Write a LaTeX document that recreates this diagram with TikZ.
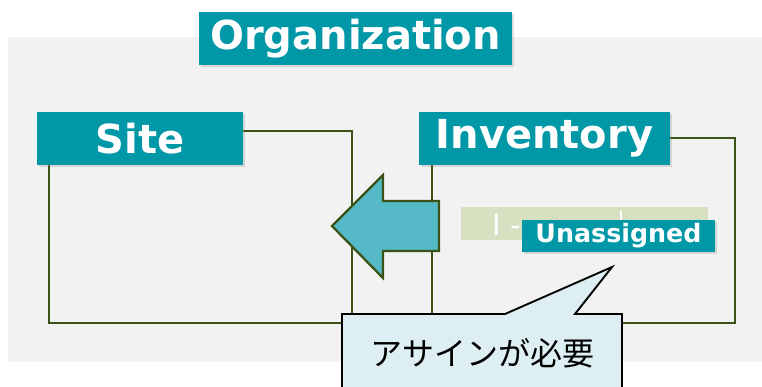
\documentclass[tikz,border=0pt]{standalone}
\usepackage{fontspec}
\setmainfont{DejaVu Sans}
\newfontfamily\jpfont{Noto Sans CJK JP}
\usetikzlibrary{shadows}
\definecolor{teal}{HTML}{0097A7}
\definecolor{bggray}{HTML}{F2F2F2}
\definecolor{frame}{HTML}{3B5316}
\definecolor{arrowfill}{HTML}{55B9C7}
\definecolor{greenbox}{HTML}{D7E1C1}
\definecolor{callfill}{HTML}{DDEFF3}
\tikzset{
  lbl/.style={fill=teal, text=white, font=\bfseries, inner sep=0pt,
    drop shadow={opacity=0.25, shadow xshift=1.5pt, shadow yshift=-1.5pt}},
  frm/.style={draw=frame, line width=1.7pt},
  bigtxt/.style={font=\bfseries\fontsize{30}{31}\selectfont},
}
\begin{document}
\begin{tikzpicture}[x=0.75pt,y=-0.75pt]
\clip (0,0) rectangle (762,386);
\fill[white] (0,0) rectangle (762,386);
% background
\fill[bggray] (8,37) rectangle (762,362);
% frames
\draw[frm] (49,131) rectangle (352,323);
\draw[frm] (432,138) rectangle (735,323);
% arrow
\draw[fill=arrowfill, draw=frame, line width=1.7pt, line join=miter]
  (332,226) -- (383,175) -- (383,201) -- (439,201) -- (439,251) -- (383,251) -- (383,278) -- cycle;
% labels
\node[lbl, bigtxt, minimum width=313*0.75pt, minimum height=53*0.75pt] (org) at (355.5,38.5) {Organization};
\node[lbl, bigtxt, minimum width=206*0.75pt, minimum height=53*0.75pt] (site) at (140,138.5) {Site};
\node[lbl, bigtxt, minimum width=251*0.75pt, minimum height=53*0.75pt] (inv) at (544.5,138.5) {Inventory};
% faded green tag
\node[fill=greenbox, minimum width=247*0.75pt, minimum height=33*0.75pt, inner sep=0pt] (tag) at (584.5,223.5) {};
\node[text=white, font=\fontsize{22}{24}\selectfont, anchor=west, inner sep=0pt] (tagtxt) at (492,225) {I -};
\draw[white, line width=2pt] (621,211) -- (621,222);
\node[lbl, minimum width=193*0.75pt, minimum height=32*0.75pt, font=\bfseries\fontsize{19}{21}\selectfont] (una) at (618.5,236) {Unassigned};
% callout
\draw[fill=callfill, draw=black, line width=1.4pt, line join=miter]
  (342,314) -- (505,314) -- (612,267) -- (575,314) -- (622,314) -- (622,395) -- (342,395) -- cycle;
\node[font=\jpfont\fontsize{24}{26}\selectfont, inner sep=0pt] (call) at (482,353) {アサインが必要};
\end{tikzpicture}
\end{document}
